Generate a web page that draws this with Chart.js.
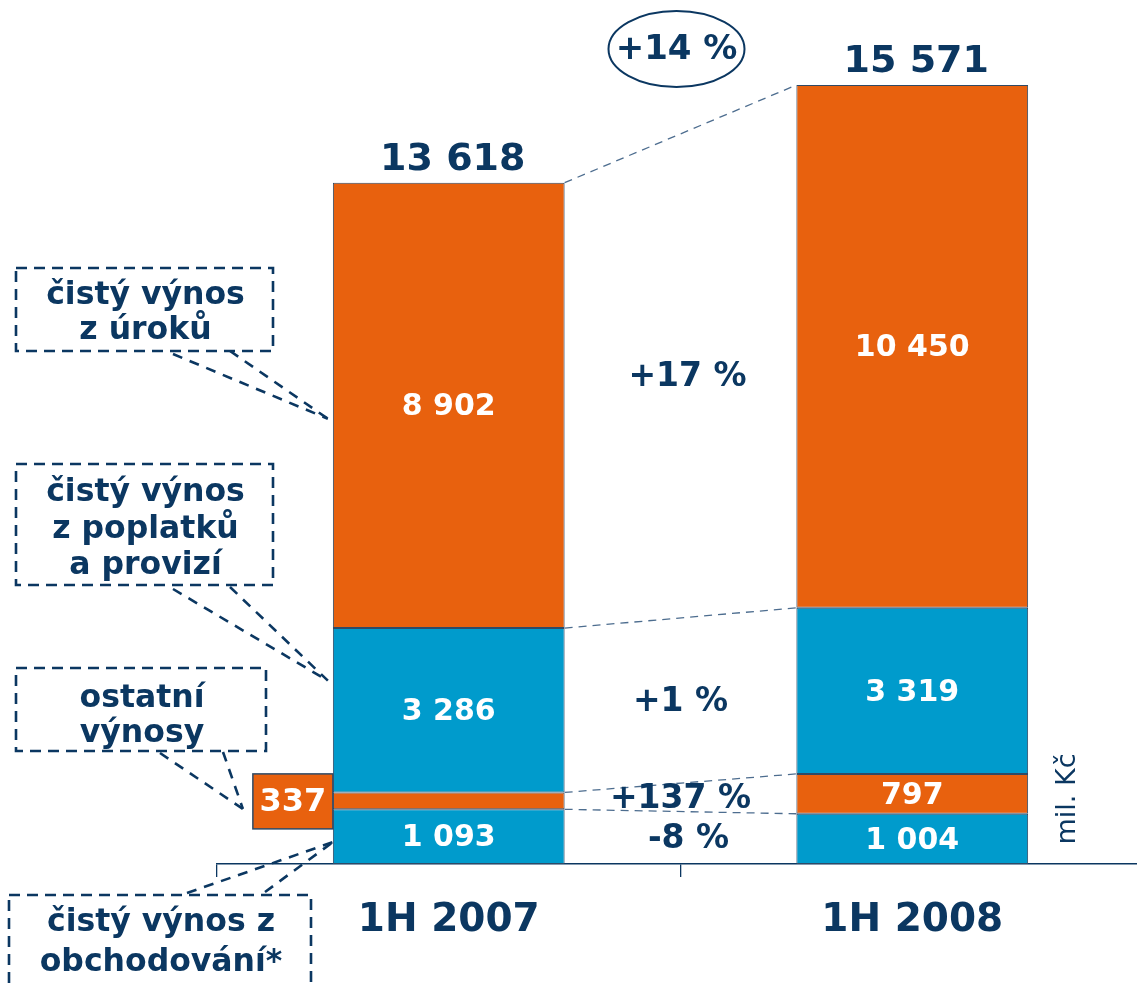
<!DOCTYPE html>
<html>
<head>
<meta charset="utf-8">
<script src="https://cdn.jsdelivr.net/npm/chart.js@4/dist/chart.umd.min.js"></script>
<style>
  html, body { margin: 0; padding: 0; background: #fff; overflow: hidden; }
  #wrap { position: absolute; left: 0; top: 0; width: 1144px; height: 984px; }
</style>
</head>
<body>
<div id="wrap"><canvas id="chart" width="1144" height="984"></canvas></div>
<script>
// data, bottom segment first
const categories = ["1H 2007", "1H 2008"];
const trading = [1093, 1004];
const other = [337, 797];
const fees = [3286, 3319];
const interest = [8902, 10450];
const totals = [13618, 15571];
const changes = ["-8 %", "+137 %", "+1 %", "+17 %"];
const totalChange = "+14 %";
const unitLabel = "mil. Kč";
const boxTexts = [
  ["čistý výnos", "z úroků"],
  ["čistý výnos", "z poplatků", "a provizí"],
  ["ostatní", "výnosy"],
  ["čistý výnos z", "obchodování*"]
];

const NAVY = "#0b3761";
const ORANGE = "#e8610e";
const BLUE = "#009bcc";
const FONT = "'DejaVu Sans', Verdana, sans-serif";

const fmt = v => String(v).replace(/\B(?=(\d{3})+(?!\d))/g, " ");

function dashLine(ctx, x1, y1, x2, y2) {
  ctx.beginPath();
  ctx.moveTo(x1, y1);
  ctx.lineTo(x2, y2);
  ctx.stroke();
}

const overlay = {
  id: "overlay",
  afterDatasetsDraw(chart) {
    const ctx = chart.ctx;
    const metas = [0, 1, 2, 3].map(i => chart.getDatasetMeta(i));
    const yScale = chart.scales.y;
    const xScale = chart.scales.x;
    const bar = (d, c) => metas[d].data[c];
    const left = el => el.x - el.width / 2;
    const right = el => el.x + el.width / 2;

    ctx.save();

    // connector lines between the two stacks
    ctx.strokeStyle = "#4d6d8f";
    ctx.lineWidth = 1.3;
    ctx.setLineDash([8, 6]);
    for (let d = 0; d < 4; d++) {
      const a = bar(d, 0), b = bar(d, 1);
      dashLine(ctx, right(a), a.y, left(b), b.y);
    }
    ctx.setLineDash([]);

    // segment labels
    ctx.fillStyle = "#fff";
    ctx.font = "bold 30px " + FONT;
    ctx.textAlign = "center";
    ctx.textBaseline = "middle";
    const datasets = [trading, other, fees, interest];
    for (let d = 0; d < 4; d++) {
      for (let c = 0; c < 2; c++) {
        if (d === 1 && c === 0) continue;
        const el = bar(d, c);
        ctx.fillText(fmt(datasets[d][c]), el.x, (el.y + el.base) / 2 + 2);
      }
    }

    // value box for the thin 337 segment
    const o = bar(1, 0);
    const oc = (o.y + o.base) / 2;
    ctx.fillStyle = ORANGE;
    ctx.fillRect(left(o) - 80, oc - 27, 80, 55);
    ctx.strokeStyle = "#2f4a66";
    ctx.lineWidth = 1.5;
    ctx.strokeRect(left(o) - 80, oc - 27, 80, 55);
    ctx.fillStyle = "#fff";
    ctx.font = "bold 32px " + FONT;
    ctx.fillText(fmt(other[0]), left(o) - 40, oc + 2);

    // totals
    ctx.fillStyle = NAVY;
    ctx.font = "bold 38px " + FONT;
    ctx.textBaseline = "alphabetic";
    for (let c = 0; c < 2; c++) {
      const el = bar(3, c);
      ctx.fillText(fmt(totals[c]), el.x + 4, el.y - 13);
    }

    // change labels between stacks
    ctx.font = "bold 33px " + FONT;
    ctx.textBaseline = "middle";
    const midX = (xScale.getPixelForValue(0) + xScale.getPixelForValue(1)) / 2;
    const dx = [8, 0, 0, 7];
    for (let d = 0; d < 4; d++) {
      const a = bar(d, 0), b = bar(d, 1);
      const y = ((a.y + a.base) / 2 + (b.y + b.base) / 2) / 2;
      ctx.fillText(changes[d], midX + dx[d], y + 2);
    }

    // total change in ellipse
    ctx.strokeStyle = NAVY;
    ctx.lineWidth = 2;
    ctx.beginPath();
    ctx.ellipse(midX - 4, 49, 68, 38, 0, 0, Math.PI * 2);
    ctx.stroke();
    ctx.font = "bold 34px " + FONT;
    ctx.fillText(totalChange, midX - 4, 50);

    // annotation boxes
    const boxes = [
      { x: 16, y: 268, w: 257, h: 83, lines: boxTexts[0], ty: 296, lh: 35 },
      { x: 16, y: 464, w: 257, h: 121, lines: boxTexts[1], ty: 493, lh: 36.5 },
      { x: 16, y: 668, w: 250, h: 83, lines: boxTexts[2], ty: 699, lh: 35 },
      { x: 9, y: 895, w: 302, h: 120, lines: boxTexts[3], ty: 923, lh: 40 }
    ];
    ctx.lineWidth = 2.6;
    ctx.setLineDash([11, 7]);
    ctx.strokeStyle = NAVY;
    ctx.font = "bold 31.5px " + FONT;
    boxes.forEach(b => {
      ctx.strokeRect(b.x, b.y, b.w, b.h);
      b.lines.forEach((t, i) => ctx.fillText(t, b.x + b.w / 2 + 1, b.ty + i * b.lh));
    });

    // leader lines to the stack
    const b0 = bar(0, 0);
    const lx = left(b0) - 5;
    const tInt = [lx, yScale.getPixelForValue(trading[0] + other[0] + fees[0] + interest[0] * 0.47)];
    const tFee = [lx, yScale.getPixelForValue(trading[0] + other[0] + fees[0] * 0.68)];
    const tOth = [left(o) - 90, oc + 8];
    const tTra = [lx + 5, yScale.getPixelForValue(trading[0] * 0.4)];
    ctx.setLineDash([10, 8]);
    ctx.lineWidth = 2.6;
    dashLine(ctx, 173, 354, tInt[0], tInt[1]);
    dashLine(ctx, 230, 351, tInt[0], tInt[1]);
    dashLine(ctx, 173, 589, tFee[0], tFee[1]);
    dashLine(ctx, 230, 587, tFee[0], tFee[1]);
    dashLine(ctx, 160, 753, tOth[0], tOth[1]);
    dashLine(ctx, 223, 752, tOth[0], tOth[1]);
    dashLine(ctx, 187, 893, tTra[0], tTra[1]);
    dashLine(ctx, 265, 892, tTra[0], tTra[1]);
    ctx.setLineDash([]);

    // unit label
    ctx.translate(1068, 799);
    ctx.rotate(-Math.PI / 2);
    ctx.font = "27px " + FONT;
    ctx.fillText(unitLabel, 0, 0);

    ctx.restore();
  }
};

const seg = (label, data, color) => ({
  label,
  data,
  backgroundColor: color,
  borderColor: "#2f4a66",
  borderWidth: 1,
  borderSkipped: false,
  barPercentage: 0.5,
  categoryPercentage: 1.0
});

new Chart(document.getElementById("chart"), {
  type: "bar",
  data: {
    labels: categories,
    datasets: [
      seg("čistý výnos z obchodování", trading, BLUE),
      seg("ostatní výnosy", other, ORANGE),
      seg("čistý výnos z poplatků a provizí", fees, BLUE),
      seg("čistý výnos z úroků", interest, ORANGE)
    ]
  },
  options: {
    responsive: false,
    animation: false,
    devicePixelRatio: 1,
    layout: { padding: { left: 217, right: 0, top: 0, bottom: 0 } },
    plugins: { legend: { display: false }, tooltip: { enabled: false } },
    scales: {
      x: {
        stacked: true,
        grid: { offset: true, drawOnChartArea: false, drawTicks: true, tickLength: 13, color: NAVY, lineWidth: 1.3 },
        border: { display: true, color: NAVY, width: 1.5 },
        ticks: { color: NAVY, font: { family: FONT, size: 39, weight: "bold" }, padding: 20, maxRotation: 0 },
        afterFit(scale) { scale.height = 120; }
      },
      y: {
        stacked: true,
        display: false,
        min: 0,
        max: 17270
      }
    }
  },
  plugins: [overlay]
});
</script>
</body>
</html>
